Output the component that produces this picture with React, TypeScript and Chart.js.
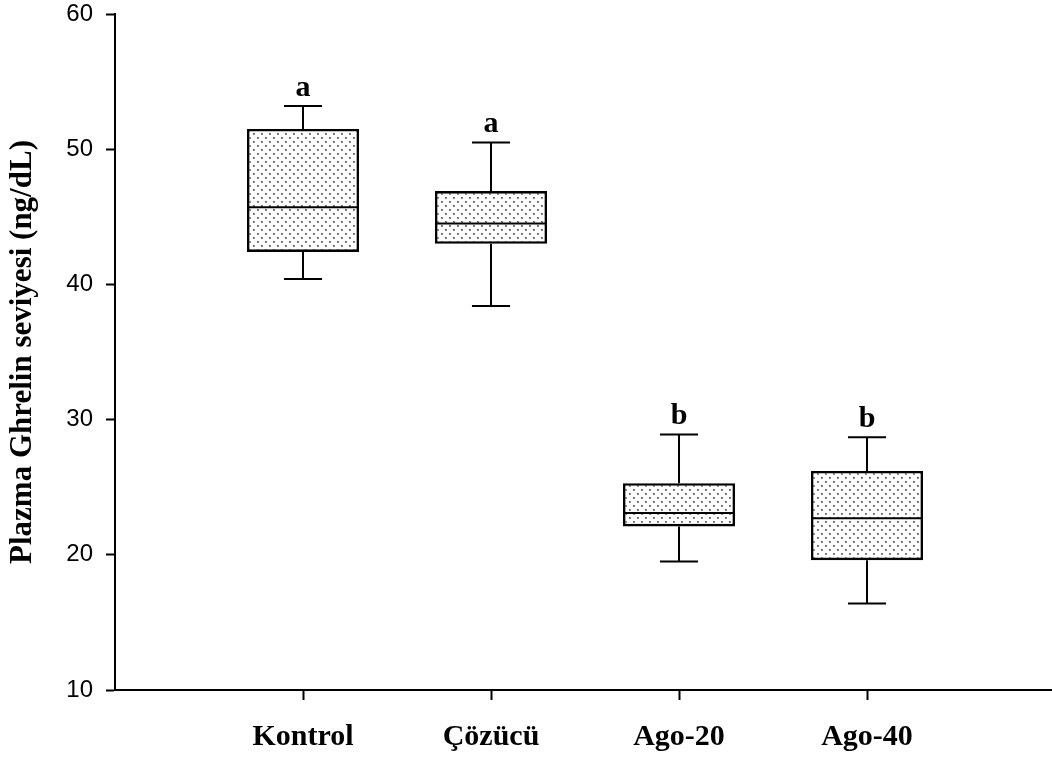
import React, { useEffect, useRef } from "react";
import { Chart, registerables } from "chart.js";

Chart.register(...registerables);

// Groups and five-number summaries (ng/dL)
const categories = ["Kontrol", "Çözücü", "Ago-20", "Ago-40"];
const whiskerLow = [40.4, 38.4, 19.5, 16.4];
const quartile1 = [42.4, 43.0, 22.1, 19.6];
const medians = [45.7, 44.5, 23.1, 22.7];
const quartile3 = [51.5, 46.9, 25.3, 26.2];
const whiskerHigh = [53.2, 50.5, 28.9, 28.7];
const groupLetters = ["a", "a", "b", "b"];

const yTicks = [10, 20, 30, 40, 50, 60];
const yTitle = "Plazma Ghrelin seviyesi (ng/dL)";

const SERIF = "'Liberation Serif', 'Times New Roman', serif";
const SANS = "'Liberation Sans', Arial, sans-serif";

function makeDotPattern(): CanvasPattern | string {
  const tile = document.createElement("canvas");
  tile.width = 8;
  tile.height = 8;
  const c = tile.getContext("2d");
  if (!c) return "#eeeeee";
  c.fillStyle = "#ffffff";
  c.fillRect(0, 0, 8, 8);
  c.fillStyle = "#8a8a8a";
  c.fillRect(1, 1, 2, 2);
  c.fillRect(5, 5, 2, 2);
  c.fillStyle = "#555555";
  c.fillRect(1, 1, 1, 1);
  c.fillRect(5, 5, 1, 1);
  const p = c.createPattern(tile, "repeat");
  return p || "#eeeeee";
}

// Draws whiskers, caps, medians and the group letters on top of the IQR bars
const boxExtras = {
  id: "boxExtras",
  afterDatasetsDraw(chart: any) {
    const { ctx } = chart;
    const xs = chart.scales.x;
    const ys = chart.scales.y;
    const meta = chart.getDatasetMeta(0);
    ctx.save();
    ctx.strokeStyle = "#000";
    ctx.lineCap = "butt";
    categories.forEach((_, i) => {
      const x = xs.getPixelForValue(i + 1);
      const bar = meta.data[i];
      const half = bar.width / 2;
      const capHalf = bar.width * 0.17;
      const yLo = ys.getPixelForValue(whiskerLow[i]);
      const yQ1 = ys.getPixelForValue(quartile1[i]);
      const yMed = ys.getPixelForValue(medians[i]);
      const yQ3 = ys.getPixelForValue(quartile3[i]);
      const yHi = ys.getPixelForValue(whiskerHigh[i]);

      ctx.lineWidth = 2;
      ctx.beginPath();
      ctx.moveTo(x, yQ3);
      ctx.lineTo(x, yHi);
      ctx.moveTo(x - capHalf, yHi);
      ctx.lineTo(x + capHalf, yHi);
      ctx.moveTo(x, yQ1);
      ctx.lineTo(x, yLo);
      ctx.moveTo(x - capHalf, yLo);
      ctx.lineTo(x + capHalf, yLo);
      ctx.stroke();

      ctx.lineWidth = 2;
      ctx.beginPath();
      ctx.moveTo(x - half + 1, yMed);
      ctx.lineTo(x + half - 1, yMed);
      ctx.stroke();

      ctx.fillStyle = "#000";
      ctx.font = `bold 30px ${SERIF}`;
      ctx.textAlign = "center";
      ctx.textBaseline = "alphabetic";
      ctx.fillText(groupLetters[i], x, yHi - 10);
    });
    ctx.restore();
  },
};

export default function App() {
  const ref = useRef<HTMLCanvasElement | null>(null);

  useEffect(() => {
    if (!ref.current) return;
    const pattern = makeDotPattern();
    const chart = new Chart(ref.current, {
      type: "bar",
      data: {
        datasets: [
          {
            data: categories.map((_, i) => ({ x: i + 1, y: [quartile1[i], quartile3[i]] })) as any,
            backgroundColor: pattern as any,
            borderColor: "#000",
            borderWidth: 2.6,
            borderSkipped: false,
            barPercentage: 0.596,
            categoryPercentage: 1,
          },
        ],
      },
      options: {
        animation: false,
        responsive: false,
        devicePixelRatio: 1,
        layout: { padding: { top: 14, left: 0, right: 0, bottom: 0 } },
        plugins: {
          legend: { display: false },
          tooltip: { enabled: false },
        },
        scales: {
          x: {
            type: "linear",
            min: 0,
            max: 4.984,
            offset: false,
            afterBuildTicks: (scale: any) => {
              scale.ticks = categories.map((_, i) => ({ value: i + 1 }));
            },
            afterFit: (scale: any) => {
              scale.height = 69;
              scale.paddingLeft = 0;
              scale.paddingRight = 0;
            },
            grid: {
              display: true,
              offset: false,
              drawOnChartArea: false,
              drawTicks: true,
              tickLength: 10,
              tickColor: "#000",
              tickWidth: 2,
            },
            border: { display: true, color: "#000", width: 2 },
            ticks: {
              autoSkip: false,
              maxRotation: 0,
              padding: 19,
              color: "#000",
              font: { family: SERIF, size: 30, weight: "bold" },
              callback: (value: any) => categories[Number(value) - 1] ?? "",
            },
          },
          y: {
            type: "linear",
            min: 10,
            max: 60,
            afterBuildTicks: (scale: any) => {
              scale.ticks = yTicks.map((v) => ({ value: v }));
            },
            afterFit: (scale: any) => {
              scale.width = 115;
              scale.paddingTop = 0;
              scale.paddingBottom = 0;
            },
            grid: {
              display: true,
              drawOnChartArea: false,
              drawTicks: true,
              tickLength: 9,
              tickColor: "#000",
              tickWidth: 2,
            },
            border: { display: true, color: "#000", width: 2 },
            ticks: {
              padding: 13,
              color: "#000",
              font: { family: SANS, size: 24, lineHeight: 1 },
            },
            title: {
              display: true,
              text: yTitle,
              color: "#000",
              padding: { top: 4, bottom: 0 },
              font: { family: SERIF, size: 31, weight: "bold" },
            },
          },
        },
      },
      plugins: [boxExtras],
    });
    return () => chart.destroy();
  }, []);

  return (
    <div style={{ position: "absolute", left: 0, top: 0, width: 1052, height: 759, background: "#fff" }}>
      <canvas ref={ref} width={1052} height={759} style={{ display: "block" }} />
    </div>
  );
}
